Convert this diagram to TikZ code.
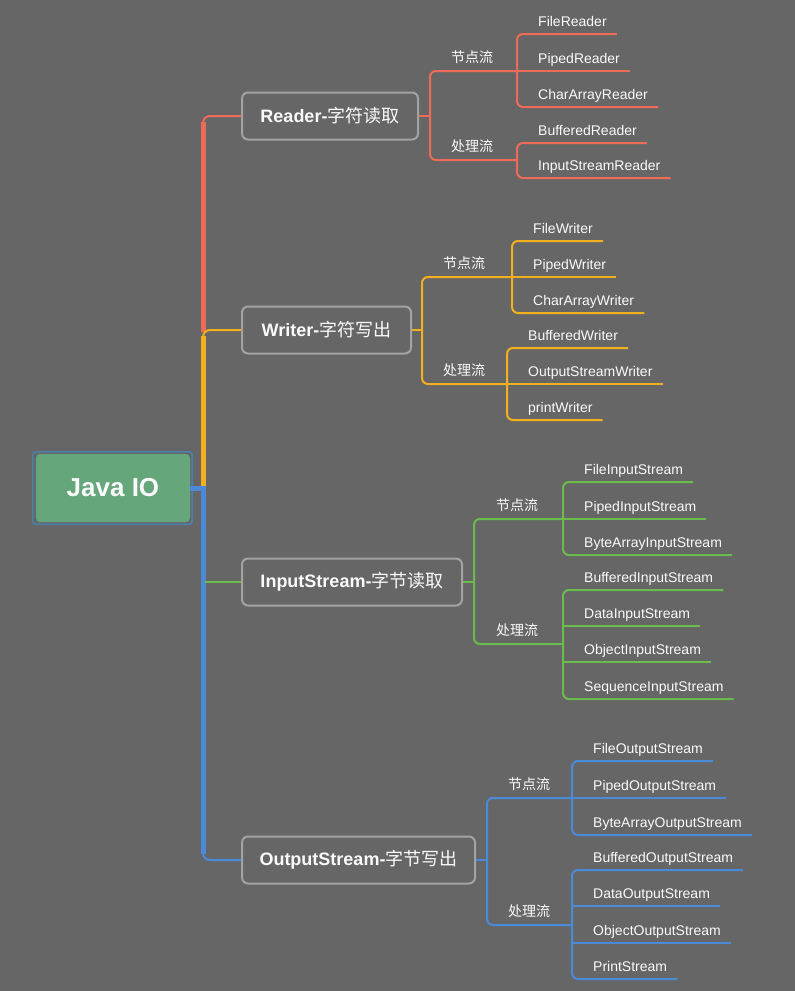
\documentclass[tikz,border=0pt]{standalone}
\usepackage{fontspec}
\setmainfont{Liberation Sans}
\newfontfamily\cjk{Noto Sans CJK SC}
\definecolor{bg}{HTML}{666666}
\definecolor{redc}{HTML}{EE6B57}
\definecolor{yelc}{HTML}{F2AF1E}
\definecolor{grnc}{HTML}{6ABD4C}
\definecolor{bluc}{HTML}{4B8AD8}
\definecolor{boxgray}{HTML}{A3A3A3}
\definecolor{rootfill}{HTML}{66A67B}
\definecolor{rootframe}{HTML}{4C80A8}
\definecolor{txt}{HTML}{FAFAFA}
\tikzset{
  every node/.style={text=txt, inner sep=0pt},
  leaftext/.style={font=\fontsize{14}{16}\selectfont, anchor=base west},
  subtext/.style={font=\cjk\fontsize{14}{16}\selectfont, anchor=base west},
  maintopic/.style={draw=boxgray, line width=2pt, rounded corners=6pt, fill=bg,
    minimum height=47pt, anchor=west, font=\fontsize{18}{20}\selectfont},
  roottopic/.style={fill=rootfill, rounded corners=4pt, minimum width=154pt,
    minimum height=68pt, font=\bfseries\fontsize{26}{28}\selectfont},
  br/.style={line width=2pt},
  trunk/.style={line width=5pt},
}
\newcommand\lf[4]{%
  \node[leaftext] (#1) at (#2+21,#3-8) {#4};
  \coordinate (#1a) at (#2,#3);
  \coordinate (#1b) at ([xshift=10pt,yshift=-8pt]#1.base east);
}
\begin{document}
\begin{tikzpicture}[x=1pt,y=-1pt]
\useasboundingbox (0,0) rectangle (795,991);
\fill[bg] (0,0) rectangle (795,991);

% root
\node[roottopic] (root) at (113,488) {Java IO};
\draw[rootframe, line width=1.6pt, rounded corners=3pt]
  ([shift={(-3,-2)}]root.north west) rectangle ([shift={(2,2)}]root.south east);

% main topics
\node[maintopic, minimum width=176pt] (reader) at (241,116) {\textbf{Reader-}{\cjk 字符读取}};
\node[maintopic, minimum width=169pt] (writer) at (241,330) {\textbf{Writer-}{\cjk 字符写出}};
\node[maintopic, minimum width=220pt] (instream) at (241,582) {\textbf{InputStream-}{\cjk 字节读取}};
\node[maintopic, minimum width=233pt] (outstream) at (241,860) {\textbf{OutputStream-}{\cjk 字节写出}};

% trunk
\coordinate (tr) at (203,116);
\coordinate (tw) at (203,330);
\coordinate (tj) at (203,488);
\coordinate (to) at (203,860);
\coordinate (ti) at (205,582);
\draw[redc, br, rounded corners=7pt] (reader.west) -- (tr) -- (tw);
\draw[redc, trunk] ([yshift=-6pt]tr) -- ([yshift=-2pt]tw);
\draw[yelc, br, rounded corners=7pt] (writer.west) -- (tw) -- (tj);
\draw[yelc, trunk] ([yshift=-6pt]tw) -- (tj);
\draw[bluc, br, rounded corners=7pt] (tj) -- (to) -- (outstream.west);
\draw[bluc, trunk] (tj) -- ([yshift=6pt]to);
\draw[bluc, trunk] (root.east) -- ([xshift=2.5pt]tj);
\draw[grnc, br] (ti) -- (instream.west);

% ---------- Reader ----------
\coordinate (rsp) at (430,116);
\coordinate (rs1a) at (430,71);  \coordinate (rs1b) at (517,71);
\coordinate (rs2a) at (430,160); \coordinate (rs2b) at (517,160);
\node[subtext] (rsub1) at (451,62) {节点流};
\node[subtext] (rsub2) at (451,151) {处理流};
\draw[redc, br] (reader.east) -- (rsp);
\draw[redc, br, rounded corners=6pt] (rs1b) -- (rs1a) -- (rs2a) -- (rs2b);
\lf{rl1}{517}{34}{FileReader}
\lf{rl2}{517}{71}{PipedReader}
\lf{rl3}{517}{107}{CharArrayReader}
\lf{rl4}{517}{143}{BufferedReader}
\lf{rl5}{517}{178}{InputStreamReader}
\draw[redc, br, rounded corners=6pt] (rl1b) -- (rl1a) -- (rl3a) -- (rl3b);
\draw[redc, br] (rl2a) -- (rl2b);
\draw[redc, br, rounded corners=6pt] (rl4b) -- (rl4a) -- (rl5a) -- (rl5b);

% ---------- Writer ----------
\coordinate (wsp) at (422,330);
\coordinate (ws1a) at (422,277); \coordinate (ws1b) at (512,277);
\coordinate (ws2a) at (422,384); \coordinate (ws2b) at (507,384);
\node[subtext] (wsub1) at (443,268) {节点流};
\node[subtext] (wsub2) at (443,375) {处理流};
\draw[yelc, br] (writer.east) -- (wsp);
\draw[yelc, br, rounded corners=6pt] (ws1b) -- (ws1a) -- (ws2a) -- (ws2b);
\lf{wl1}{512}{241}{FileWriter}
\lf{wl2}{512}{277}{PipedWriter}
\lf{wl3}{512}{313}{CharArrayWriter}
\lf{wl4}{507}{348}{BufferedWriter}
\lf{wl5}{507}{384}{OutputStreamWriter}
\lf{wl6}{507}{420}{printWriter}
\draw[yelc, br, rounded corners=6pt] (wl1b) -- (wl1a) -- (wl3a) -- (wl3b);
\draw[yelc, br] (wl2a) -- (wl2b);
\draw[yelc, br, rounded corners=6pt] (wl4b) -- (wl4a) -- (wl6a) -- (wl6b);
\draw[yelc, br] (wl5a) -- (wl5b);

% ---------- InputStream ----------
\coordinate (isp) at (474,582);
\coordinate (is1a) at (474,519); \coordinate (is1b) at (563,519);
\coordinate (is2a) at (474,644); \coordinate (is2b) at (563,644);
\node[subtext] (isub1) at (496,510) {节点流};
\node[subtext] (isub2) at (496,635) {处理流};
\draw[grnc, br] (instream.east) -- (isp);
\draw[grnc, br, rounded corners=6pt] (is1b) -- (is1a) -- (is2a) -- (is2b);
\lf{il1}{563}{482}{FileInputStream}
\lf{il2}{563}{519}{PipedInputStream}
\lf{il3}{563}{555}{ByteArrayInputStream}
\lf{il4}{563}{590}{BufferedInputStream}
\lf{il5}{563}{626}{DataInputStream}
\lf{il6}{563}{662}{ObjectInputStream}
\lf{il7}{563}{699}{SequenceInputStream}
\draw[grnc, br, rounded corners=6pt] (il1b) -- (il1a) -- (il3a) -- (il3b);
\draw[grnc, br] (il2a) -- (il2b);
\draw[grnc, br, rounded corners=6pt] (il4b) -- (il4a) -- (il7a) -- (il7b);
\draw[grnc, br] (il5a) -- (il5b);
\draw[grnc, br] (il6a) -- (il6b);

% ---------- OutputStream ----------
\coordinate (osp) at (487,860);
\coordinate (os1a) at (487,798); \coordinate (os1b) at (572,798);
\coordinate (os2a) at (487,925); \coordinate (os2b) at (572,925);
\node[subtext] (osub1) at (508,789) {节点流};
\node[subtext] (osub2) at (508,916) {处理流};
\draw[bluc, br] (outstream.east) -- (osp);
\draw[bluc, br, rounded corners=6pt] (os1b) -- (os1a) -- (os2a) -- (os2b);
\lf{ol1}{572}{761}{FileOutputStream}
\lf{ol2}{572}{798}{PipedOutputStream}
\lf{ol3}{572}{835}{ByteArrayOutputStream}
\lf{ol4}{572}{870}{BufferedOutputStream}
\lf{ol5}{572}{906}{DataOutputStream}
\lf{ol6}{572}{943}{ObjectOutputStream}
\lf{ol7}{572}{979}{PrintStream}
\draw[bluc, br, rounded corners=6pt] (ol1b) -- (ol1a) -- (ol3a) -- (ol3b);
\draw[bluc, br] (ol2a) -- (ol2b);
\draw[bluc, br, rounded corners=6pt] (ol4b) -- (ol4a) -- (ol7a) -- (ol7b);
\draw[bluc, br] (ol5a) -- (ol5b);
\draw[bluc, br] (ol6a) -- (ol6b);
\end{tikzpicture}
\end{document}
